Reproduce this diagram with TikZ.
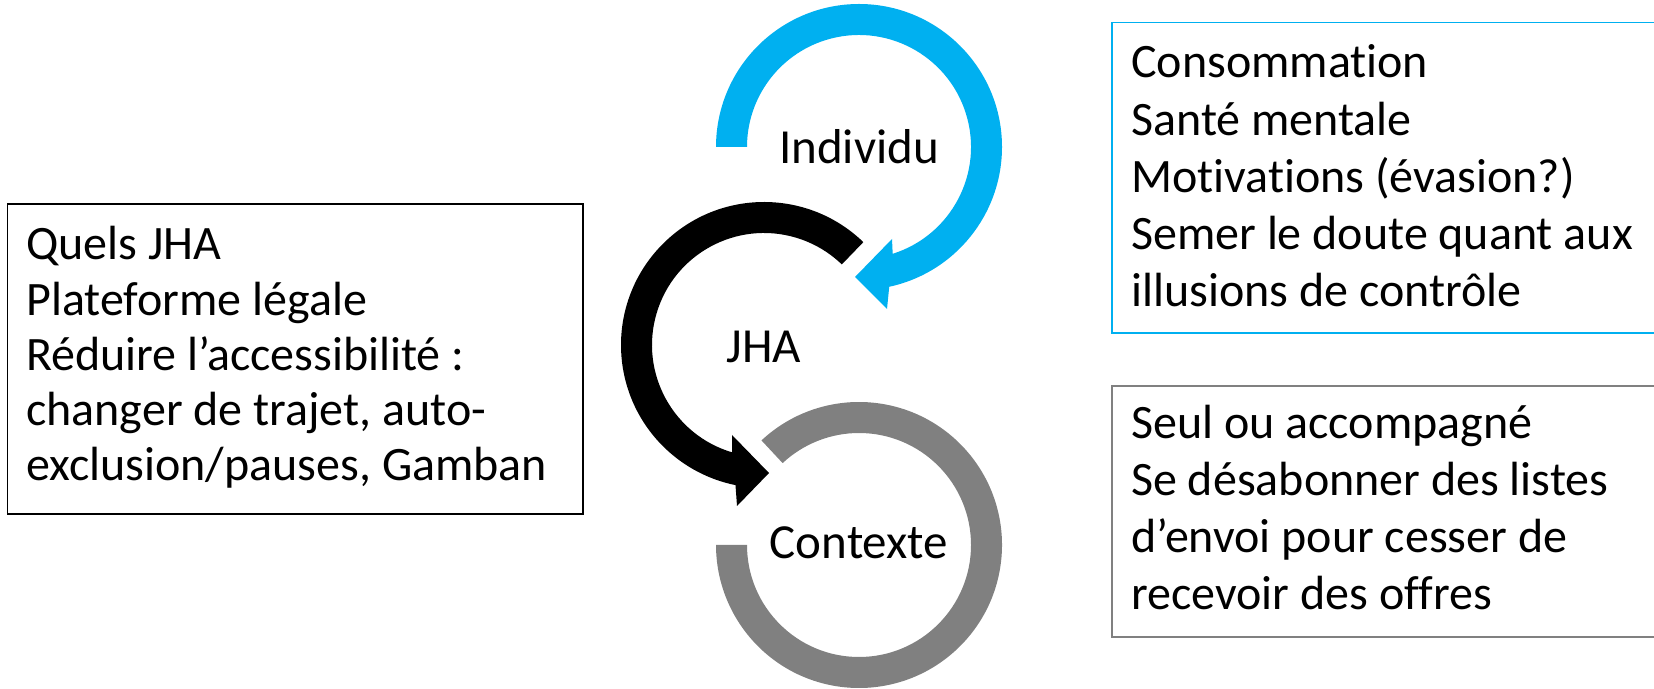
\documentclass[tikz,border=0pt]{standalone}
\usepackage{fontspec}
\setmainfont{Carlito}[Ligatures=NoCommon]
\usetikzlibrary{calc}
\definecolor{blueC}{HTML}{00B0F0}
\definecolor{grayC}{HTML}{808080}
\begin{document}
\begin{tikzpicture}[x=1pt,y=1pt,
  boxtext/.style={inner sep=0pt, anchor=base west, align=left, font=\fontsize{48}{55.3}\selectfont},
  rtext/.style={inner sep=0pt, anchor=base west, align=left, font=\fontsize{48}{57.3}\selectfont},
  ctext/.style={inner sep=0pt, anchor=base, font=\fontsize{49}{59}\selectfont}]
\useasboundingbox (0,0) rectangle (1654,688);
\coordinate (cB) at (859,541);
\coordinate (cK) at (764,343);
\coordinate (cG) at (859,143);
% blue arrow
\fill[blueC] ($(cB)+(180:143)$) arc[start angle=180, end angle=-77.8, radius=143]
  -- (887,379) -- (855,411) -- (892,449) -- ($(cB)+(-72.5:112)$)
  arc[start angle=-72.5, end angle=180, radius=112] -- cycle;
% black arrow
\fill[black] ($(cK)+(46:143)$) arc[start angle=46, end angle=258.5, radius=143]
  -- (737,182) -- (769,215) -- (732,253) -- ($(cK)+(253.5:112)$)
  arc[start angle=253.5, end angle=46, radius=112] -- cycle;
% gray arc
\fill[grayC] ($(cG)+(133:143)$) arc[start angle=133, end angle=-180, radius=143]
  -- ($(cG)+(180:112)$) arc[start angle=-180, end angle=133, radius=112] -- cycle;
\node[ctext] (ind) at (859,524) {Individu};
\node[ctext] (jha) at (764,325) {JHA};
\node[ctext] (ctx) at (859,129) {Contexte};
% boxes
\draw[black, line width=1.5pt] (7.7,484) rectangle (583,174);
\draw[blueC, line width=1.5pt] (1112,665.3) rectangle (1670,355);
\draw[grayC, line width=1.5pt] (1112,302) rectangle (1670,51);
\node[boxtext] (ltxt) at (26,207) {Quels JHA\\Plateforme légale\\Réduire l’accessibilité :\\changer de trajet, auto-\\exclusion/pauses, Gamban};
\node[rtext] (rtop) at (1131,381) {Consommation\\Santé mentale\\Motivations (évasion?)\\Semer le doute quant aux\\illusions de contrôle};
\node[rtext] (rbot) at (1131,78) {Seul ou accompagné\\Se désabonner des listes\\d’envoi pour cesser de\\recevoir des offres};
\end{tikzpicture}
\end{document}
